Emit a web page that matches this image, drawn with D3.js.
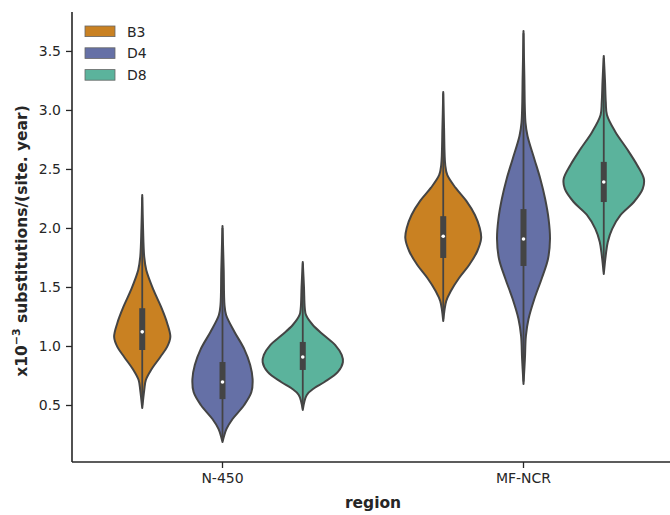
<!DOCTYPE html>
<html>
<head>
<meta charset="utf-8">
<script src="https://cdn.jsdelivr.net/npm/d3@7"></script>
<style>
  html, body { margin: 0; padding: 0; background: #fff; }
  svg { display: block; font-family: "DejaVu Sans", sans-serif; }
</style>
</head>
<body>
<svg id="chart" width="670" height="515"></svg>
<script>
// ---------------- data ----------------
const regions = ["N-450", "MF-NCR"];
const hues = ["B3", "D4", "D8"];
const yTicks = [0.5, 1.0, 1.5, 2.0, 2.5, 3.0, 3.5];

// density profiles: [value, relative density]
const profileB3_N450 = [[2.28,0],[2.0,0.02],[1.754,0.05],[1.644,0.10],[1.475,0.28],[1.331,0.47],[1.195,0.62],[1.076,0.70],[0.992,0.62],[0.907,0.45],[0.797,0.22],[0.712,0.09],[0.627,0.05],[0.475,0]];
const profileD4_N450 = [[2.017,0],[1.644,0.03],[1.347,0.05],[1.263,0.09],[1.119,0.30],[0.975,0.54],[0.839,0.69],[0.720,0.75],[0.610,0.72],[0.500,0.54],[0.381,0.25],[0.297,0.10],[0.186,0]];
const profileD8_N450 = [[1.712,0],[1.50,0.03],[1.322,0.05],[1.263,0.08],[1.178,0.25],[1.093,0.52],[1.008,0.81],[0.924,0.97],[0.864,1.0],[0.780,0.875],[0.695,0.54],[0.644,0.29],[0.585,0.10],[0.458,0]];
const profileB3_MF = [[3.153,0],[2.85,0.02],[2.534,0.05],[2.449,0.10],[2.339,0.31],[2.229,0.575],[2.110,0.79],[2.000,0.91],[1.915,0.945],[1.805,0.85],[1.686,0.645],[1.576,0.395],[1.466,0.19],[1.381,0.075],[1.212,0]];
const profileD4_MF = [[3.669,0],[3.30,0.02],[2.890,0.05],[2.780,0.10],[2.585,0.27],[2.415,0.42],[2.246,0.54],[2.076,0.625],[1.907,0.66],[1.737,0.61],[1.568,0.45],[1.398,0.27],[1.229,0.125],[1.085,0.06],[0.890,0.035],[0.678,0]];
const profileD8_MF = [[3.458,0],[3.25,0.03],[3.068,0.05],[2.958,0.08],[2.814,0.29],[2.669,0.58],[2.534,0.83],[2.415,1.0],[2.331,0.97],[2.220,0.75],[2.110,0.42],[1.992,0.21],[1.881,0.10],[1.771,0.05],[1.610,0]];

// box stats by [region][hue]
const q1Values     = [[0.966, 0.550, 0.797], [1.746, 1.678, 2.220]];
const medianValues = [[1.120, 0.695, 0.907], [1.930, 1.907, 2.390]];
const q3Values     = [[1.320, 0.864, 1.034], [2.100, 2.160, 2.560]];
const whiskerLow   = [[0.50, 0.20, 0.47], [1.23, 0.70, 1.63]];
const whiskerHigh  = [[2.26, 2.00, 1.70], [3.14, 3.65, 3.44]];

const profiles = [
  [profileB3_N450, profileD4_N450, profileD8_N450],
  [profileB3_MF, profileD4_MF, profileD8_MF]
];

// ---------------- styles ----------------
const hueColors = ["#c98122", "#6570a6", "#5bb39c"];
const edge = "#444444";
const ink = "#262626";

// ---------------- layout ----------------
const svg = d3.select("#chart");
const plotLeft = 72, plotRight = 674, plotTop = 12, plotBottom = 462;

const x = d3.scaleBand().domain(regions).range([plotLeft, plotRight]).paddingInner(0).paddingOuter(0);
const xHue = d3.scaleBand().domain(hues).range([-0.4 * x.bandwidth(), 0.4 * x.bandwidth()]);
const y = d3.scaleLinear().domain([0.017, 3.83]).range([plotBottom, plotTop]);
const w = d3.scaleLinear().domain([0, 1]).range([0, xHue.bandwidth() / 2]);

// violins
regions.forEach((r, ri) => {
  hues.forEach((h, hi) => {
    const cx = x(r) + x.bandwidth() / 2 + xHue(h) + xHue.bandwidth() / 2;
    const area = d3.area()
      .y(d => y(d[0]))
      .x0(d => cx - w(d[1]))
      .x1(d => cx + w(d[1]))
      .curve(d3.curveCatmullRom.alpha(0.5));
    svg.append("path")
      .attr("d", area(profiles[ri][hi]))
      .attr("fill", hueColors[hi])
      .attr("stroke", edge)
      .attr("stroke-width", 2)
      .attr("stroke-linejoin", "round");
    svg.append("line")
      .attr("x1", cx).attr("x2", cx)
      .attr("y1", y(whiskerLow[ri][hi])).attr("y2", y(whiskerHigh[ri][hi]))
      .attr("stroke", edge).attr("stroke-width", 1.8);
    svg.append("rect")
      .attr("x", cx - 3).attr("width", 6)
      .attr("y", y(q3Values[ri][hi]))
      .attr("height", y(q1Values[ri][hi]) - y(q3Values[ri][hi]))
      .attr("fill", edge);
    svg.append("circle")
      .attr("cx", cx).attr("cy", y(medianValues[ri][hi]))
      .attr("r", 1.8).attr("fill", "#ffffff");
  });
});

// axes
const yAxis = d3.axisLeft(y).tickValues(yTicks).tickFormat(d3.format(".1f")).tickSize(6).tickPadding(5);
const gy = svg.append("g").attr("transform", `translate(${plotLeft},0)`).call(yAxis);
gy.select(".domain").attr("d", `M0,${plotBottom}V${plotTop}`);

const xAxis = d3.axisBottom(x).tickSize(6).tickPadding(5);
const gx = svg.append("g").attr("transform", `translate(0,${plotBottom})`).call(xAxis);
gx.select(".domain").attr("d", `M${plotLeft},0H${plotRight}`);

[gy, gx].forEach(g => {
  g.select(".domain").attr("stroke", ink).attr("stroke-width", 1.6);
  g.selectAll(".tick line").attr("stroke", ink).attr("stroke-width", 1.3);
  g.selectAll(".tick text").attr("fill", ink).attr("font-size", 14).attr("font-family", "DejaVu Sans");
});

// axis labels
svg.append("text")
  .attr("x", (plotLeft + plotRight) / 2).attr("y", 508)
  .attr("text-anchor", "middle")
  .attr("font-size", 15.5).attr("font-weight", "bold").attr("fill", ink)
  .text("region");

const yl = svg.append("text")
  .attr("transform", `translate(27,${(plotTop + plotBottom) / 2 + 4}) rotate(-90)`)
  .attr("text-anchor", "middle")
  .attr("font-size", 15.5).attr("font-weight", "bold").attr("fill", ink);
yl.append("tspan").text("x10");
yl.append("tspan").attr("font-size", 11).attr("dy", -7).text("\u22123");
yl.append("tspan").attr("dy", 7).text(" substitutions/(site. year)");

// legend
const legend = svg.append("g");
hues.forEach((h, i) => {
  const ly = 26 + i * 21.8;
  legend.append("rect")
    .attr("x", 85).attr("y", ly).attr("width", 30).attr("height", 10.6)
    .attr("fill", hueColors[i]).attr("stroke", "#666666").attr("stroke-width", 0.8);
  legend.append("text")
    .attr("x", 127).attr("y", ly + 10.6)
    .attr("font-size", 14).attr("fill", ink)
    .text(h);
});
</script>
</body>
</html>
